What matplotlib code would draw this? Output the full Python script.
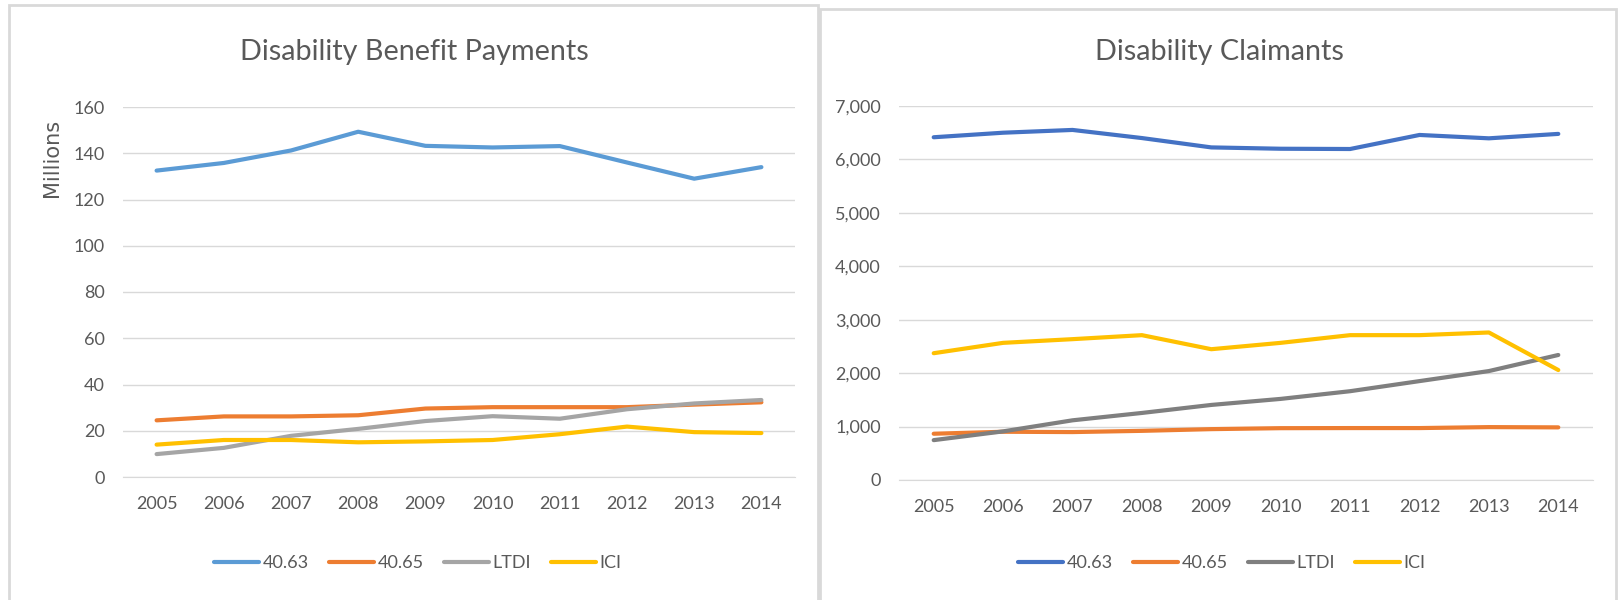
import matplotlib
matplotlib.use("Agg")
import matplotlib.pyplot as plt
from matplotlib.patches import Rectangle

plt.rcParams["font.family"] = ["Lato", "DejaVu Sans"]

years = ["2005", "2006", "2007", "2008", "2009", "2010", "2011", "2012", "2013", "2014"]
series_names = ["40.63", "40.65", "LTDI", "ICI"]

# Disability benefit payments, millions
pay_4063 = [132.5, 135.8, 141.2, 149.3, 143.2, 142.5, 143.1, 136.0, 129.0, 134.0]
pay_4065 = [24.5, 26.2, 26.2, 26.7, 29.6, 30.2, 30.2, 30.2, 31.3, 32.3]
pay_ltdi = [9.9, 12.6, 17.8, 20.8, 24.2, 26.3, 25.2, 29.3, 31.8, 33.3]
pay_ici = [14.0, 16.0, 16.0, 15.0, 15.4, 16.0, 18.5, 21.8, 19.4, 19.0]

# Disability claimants
clm_4063 = [6415, 6500, 6552, 6400, 6225, 6200, 6195, 6458, 6395, 6478]
clm_4065 = [866, 903, 897, 920, 952, 970, 972, 972, 990, 985]
clm_ltdi = [746, 910, 1117, 1255, 1405, 1518, 1662, 1851, 2039, 2340]
clm_ici = [2373, 2567, 2636, 2711, 2448, 2567, 2711, 2711, 2761, 2058]

left_colors = ["#5B9BD5", "#ED7D31", "#A5A5A5", "#FFC000"]
right_colors = ["#4472C4", "#ED7D31", "#7F7F7F", "#FFC000"]

W, H = 1618, 600
fig = plt.figure(figsize=(W / 100, H / 100), dpi=100)

# chart frames
fig.patches.append(Rectangle((9 / W, -0.05), (818 - 9) / W, 1.05 - 5 / H, transform=fig.transFigure,
                             fill=False, edgecolor="#D9D9D9", linewidth=2))
fig.patches.append(Rectangle((820 / W, -0.05), (1616 - 820) / W, 1.05 - 8.5 / H, transform=fig.transFigure,
                             fill=False, edgecolor="#D9D9D9", linewidth=2))

text_color = "#595959"


def draw_panel(rect, data, colors, ylim, yticks, fmt, title, title_x, legend_x):
    ax = fig.add_axes(rect)
    x = list(range(len(years)))
    handles = []
    for vals, c, name in zip(data, colors, series_names):
        h, = ax.plot(x, vals, color=c, linewidth=3.0, label=name, solid_capstyle="round")
        handles.append(h)
    ax.set_xlim(-0.5, len(years) - 0.5)
    ax.set_ylim(*ylim)
    ax.set_yticks(yticks)
    ax.set_yticklabels([fmt(v) for v in yticks])
    ax.set_xticks(x)
    ax.set_xticklabels(years)
    ax.grid(axis="y", color="#D9D9D9", linewidth=1)
    ax.set_axisbelow(True)
    for s in ["top", "right", "left"]:
        ax.spines[s].set_visible(False)
    ax.spines["bottom"].set_color("#D9D9D9")
    ax.tick_params(length=0, labelsize=13, colors=text_color)
    ax.tick_params(axis="x", pad=14)
    ax.tick_params(axis="y", pad=13)
    fig.text(title_x / W, 1 - 52 / H, title, ha="center", va="center", fontsize=20.7, color=text_color)
    fig.legend(handles=handles, loc="center", bbox_to_anchor=(legend_x / W, 1 - 563 / H), ncol=4,
               frameon=False, fontsize=13, handlelength=2.5, columnspacing=1.1, handletextpad=0.2,
               labelcolor=text_color)
    return ax


ax1 = draw_panel([123 / W, 1 - 477 / H, 672 / W, 370 / H],
                 [pay_4063, pay_4065, pay_ltdi, pay_ici], left_colors,
                 (0, 160), list(range(0, 161, 20)), lambda v: f"{v}",
                 "Disability Benefit Payments", 414, 418)
fig.text(52 / W, 1 - 158 / H, "Millions", rotation=90, ha="center", va="center",
         fontsize=15, color=text_color, family=["DejaVu Sans"])

ax2 = draw_panel([899 / W, 1 - 480 / H, 694 / W, 374 / H],
                 [clm_4063, clm_4065, clm_ltdi, clm_ici], right_colors,
                 (0, 7000), list(range(0, 7001, 1000)), lambda v: f"{v:,}",
                 "Disability Claimants", 1219, 1222)

fig.savefig("out.png", dpi=100)
